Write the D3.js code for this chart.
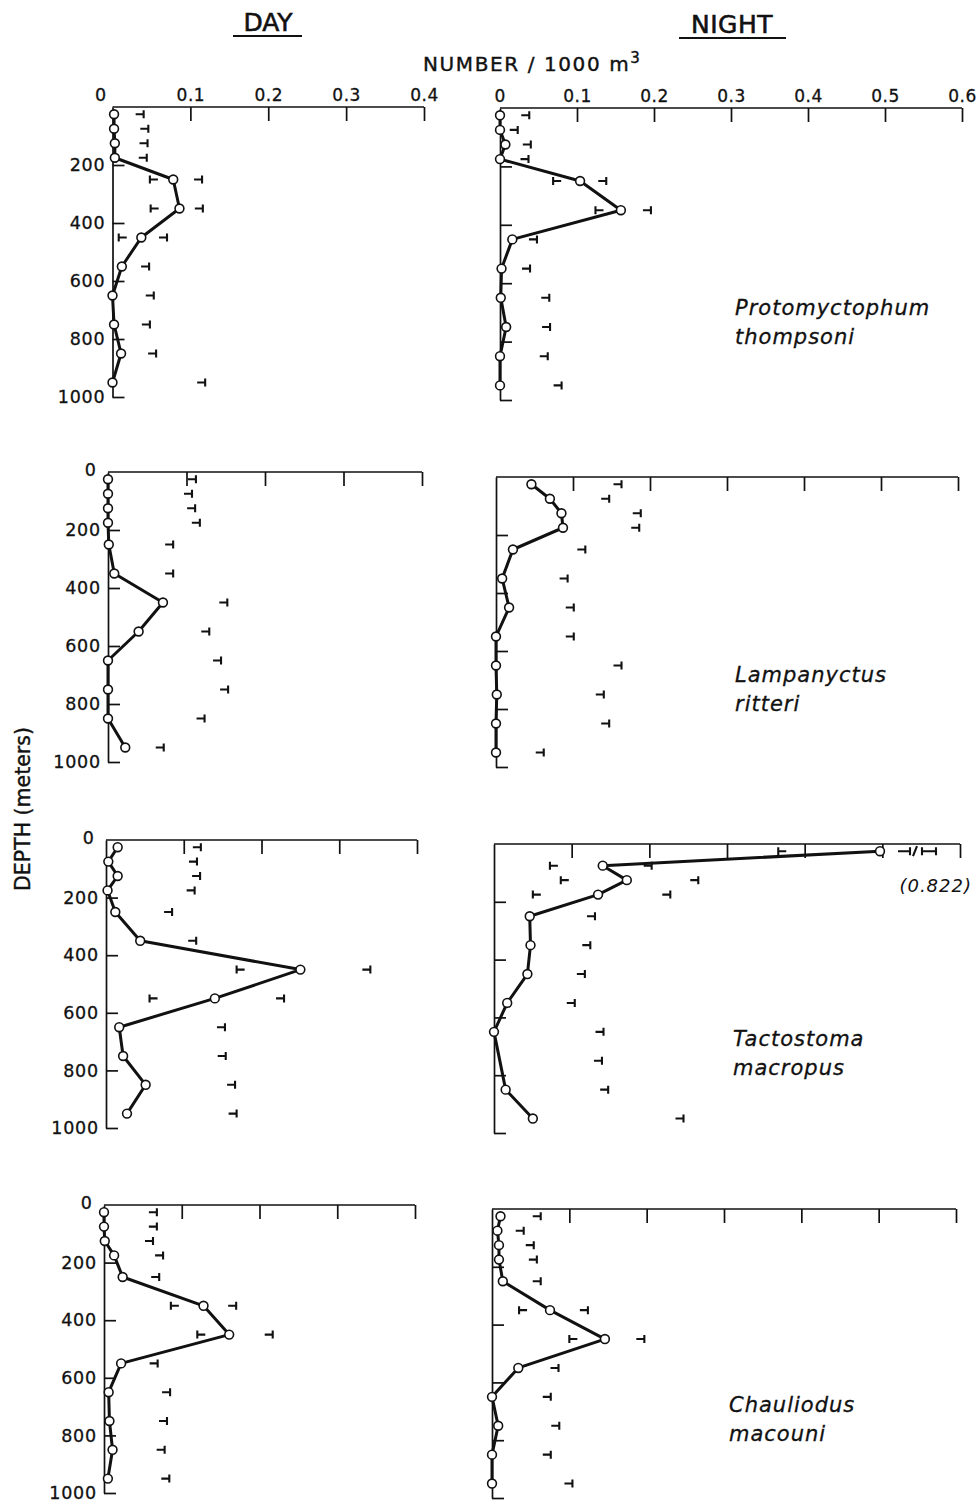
<!DOCTYPE html>
<html>
<head>
<meta charset="utf-8">
<script src="https://cdn.jsdelivr.net/npm/d3@7/dist/d3.min.js"></script>
<style>
  html, body { margin: 0; padding: 0; background: #fff; }
  svg { display: block; }
</style>
</head>
<body>
<svg id="chart" width="976" height="1503"></svg>
<script>
// ---------------- DATA ----------------
const depths = [25, 75, 125, 175, 250, 350, 450, 550, 650, 750, 850, 950];
const depthTicks = [200, 400, 600, 800, 1000];
const dayTicks = [0.1, 0.2, 0.3, 0.4];
const nightTicks = [0, 0.1, 0.2, 0.3, 0.4, 0.5, 0.6];
const dayMax = 0.4;
const nightMax = 0.6;
const _ = null;

// Protomyctophum thompsoni
const ptDayMean   = [0.002, 0.002, 0.003, 0.003, 0.078, 0.086, 0.037, 0.012, 0.000, 0.002, 0.011, 0.000];
const ptDayUpper  = [0.040, 0.046, 0.045, 0.044, 0.115, 0.116, 0.070, 0.047, 0.053, 0.048, 0.056, 0.119];
const ptDayLower  = [_, _, _, _, 0.048, 0.049, 0.008, _, _, _, _, _];
const ptNightMean  = [0.000, 0.000, 0.007, 0.000, 0.104, 0.157, 0.016, 0.002, 0.001, 0.008, 0.000, 0.000];
const ptNightUpper = [0.038, 0.023, 0.040, 0.037, 0.138, 0.196, 0.048, 0.039, 0.064, 0.065, 0.062, 0.080];
const ptNightLower = [_, _, _, _, 0.069, 0.124, _, _, _, _, _, _];

// Lampanyctus ritteri
const lrDayMean   = [0.000, 0.000, 0.000, 0.000, 0.001, 0.008, 0.070, 0.039, 0.000, 0.000, 0.000, 0.022];
const lrDayUpper  = [0.112, 0.107, 0.111, 0.117, 0.083, 0.083, 0.152, 0.129, 0.144, 0.153, 0.123, 0.071];
const lrDayLower  = [_, _, _, _, _, _, _, _, _, _, _, _];
const lrNightMean  = [0.046, 0.070, 0.085, 0.087, 0.022, 0.008, 0.017, 0.000, 0.000, 0.001, 0.000, 0.000];
const lrNightUpper = [0.163, 0.147, 0.188, 0.186, 0.116, 0.093, 0.101, 0.101, 0.163, 0.140, 0.147, 0.062];
const lrNightLower = [_, _, _, _, _, _, _, _, _, _, _, _];

// Tactostoma macropus
const tmDayMean   = [0.015, 0.003, 0.015, 0.002, 0.012, 0.044, 0.250, 0.140, 0.017, 0.022, 0.051, 0.027];
const tmDayUpper  = [0.122, 0.117, 0.121, 0.114, 0.085, 0.116, 0.340, 0.229, 0.153, 0.154, 0.166, 0.168];
const tmDayLower  = [_, _, _, _, _, _, 0.168, 0.056, _, _, _, _];
const tmNightMean  = [0.497, 0.140, 0.171, 0.134, 0.046, 0.047, 0.043, 0.017, 0.000, _, 0.015, 0.050];
const tmNightUpper = [0.822, 0.203, 0.263, 0.227, 0.130, 0.124, 0.117, 0.104, 0.141, 0.139, 0.147, 0.244];
const tmNightLower = [0.366, 0.072, 0.086, 0.050, _, _, _, _, _, _, _, _];

// Chauliodus macouni
const cmDayMean   = [0.000, 0.000, 0.001, 0.013, 0.024, 0.128, 0.161, 0.022, 0.006, 0.007, 0.011, 0.005];
const cmDayUpper  = [0.068, 0.068, 0.063, 0.076, 0.071, 0.170, 0.217, 0.069, 0.085, 0.081, 0.078, 0.084];
const cmDayLower  = [_, _, _, _, _, 0.086, 0.120, _, _, _, _, _];
const cmNightMean  = [0.011, 0.007, 0.009, 0.009, 0.014, 0.075, 0.146, 0.034, 0.000, 0.008, 0.000, 0.000];
const cmNightUpper = [0.063, 0.041, 0.054, 0.058, 0.063, 0.124, 0.197, 0.086, 0.076, 0.087, 0.076, 0.104];
const cmNightLower = [_, _, _, _, _, 0.035, 0.100, _, _, _, _, _];

const speciesNames = [
  ["Protomyctophum", "thompsoni"],
  ["Lampanyctus", "ritteri"],
  ["Tactostoma", "macropus"],
  ["Chauliodus", "macouni"]
];

// ---------------- LAYOUT ----------------
const dayBox = [
  {l: 112.5, r: 424, t: 107, b: 397},
  {l: 108,   r: 422, t: 472, b: 762},
  {l: 106,   r: 417, t: 840, b: 1128},
  {l: 104,   r: 415, t: 1205, b: 1493}
];
const nightBox = [
  {l: 500, r: 962, t: 108, b: 400},
  {l: 496, r: 958, t: 477, b: 767},
  {l: 494, r: 960, t: 844, b: 1133},
  {l: 492, r: 956, t: 1209, b: 1498}
];
const nameBox = [
  {x: 735, y: 315},
  {x: 735, y: 682},
  {x: 733, y: 1046},
  {x: 729, y: 1412}
];

const FONT = "'DejaVu Sans', 'Liberation Sans', sans-serif";
const INK = "#111";
const svg = d3.select("#chart");

const panels = [
  {day: [ptDayMean, ptDayUpper, ptDayLower], night: [ptNightMean, ptNightUpper, ptNightLower]},
  {day: [lrDayMean, lrDayUpper, lrDayLower], night: [lrNightMean, lrNightUpper, lrNightLower]},
  {day: [tmDayMean, tmDayUpper, tmDayLower], night: [tmNightMean, tmNightUpper, tmNightLower]},
  {day: [cmDayMean, cmDayUpper, cmDayLower], night: [cmNightMean, cmNightUpper, cmNightLower]}
];

const fmtX = d => d === 0 ? "0" : d3.format(".1f")(d);

function heavy(sel, w) {
  return sel.attr("stroke", INK).attr("stroke-width", w).attr("paint-order", "stroke");
}

function drawPanel(box, series, maxV, ticks, isDay, showXLabels) {
  const [mean, upper, lower] = series;
  const x = d3.scaleLinear().domain([0, maxV]).range([box.l, box.r]);
  const y = d3.scaleLinear().domain([0, 1000]).range([box.t, box.b]);
  const g = svg.append("g");

  // top axis
  const xa = d3.axisTop(x).tickValues(ticks.filter(t => t > 0))
    .tickSizeInner(-14).tickSizeOuter(0).tickPadding(6)
    .tickFormat(showXLabels ? fmtX : () => "");
  const gx = g.append("g").attr("transform", `translate(0,${box.t})`).call(xa);
  gx.select(".domain").attr("d", `M${box.l},0H${box.r}`);
  gx.selectAll("line, path").attr("stroke", INK).attr("stroke-width", 1.7);
  heavy(gx.selectAll("text").attr("font-family", FONT).attr("font-size", 17)
    .attr("fill", INK).attr("letter-spacing", 0.5), 0.3);

  // left axis
  const ya = d3.axisLeft(y).tickValues(depthTicks)
    .tickSizeInner(-12).tickSizeOuter(0).tickPadding(7)
    .tickFormat(isDay ? d3.format("d") : () => "");
  const gy = g.append("g").attr("transform", `translate(${box.l},0)`).call(ya);
  gy.selectAll("line, path").attr("stroke", INK).attr("stroke-width", 1.7);
  heavy(gy.selectAll("text").attr("font-family", FONT).attr("font-size", 17.5)
    .attr("fill", INK).attr("letter-spacing", 0.8), 0.3);

  // "0" labels
  if (isDay) {
    heavy(g.append("text")
      .attr("x", box.l - 12)
      .attr("y", showXLabels ? box.t - 6 : box.t + 4)
      .attr("text-anchor", showXLabels ? "middle" : "end")
      .attr("font-family", FONT).attr("font-size", 17.5).attr("fill", INK)
      .text("0"), 0.3);
  } else if (showXLabels) {
    heavy(g.append("text")
      .attr("x", x(0)).attr("y", box.t - 6)
      .attr("text-anchor", "middle")
      .attr("font-family", FONT).attr("font-size", 17).attr("fill", INK)
      .text("0"), 0.3);
  }

  // confidence limit markers
  const pts = depths.map((d, i) => ({depth: d, v: mean[i], up: upper[i], lo: lower[i]}));
  const mk = g.append("g").attr("stroke", INK).attr("stroke-width", 2.1).attr("fill", "none");
  pts.forEach(p => {
    const Y = y(p.depth);
    if (p.up != null && p.up <= maxV) {
      const X = x(p.up);
      mk.append("path").attr("d", `M${X - 8},${Y}H${X}M${X},${Y - 4}V${Y + 4}`);
    }
    if (p.lo != null) {
      const X = x(p.lo);
      mk.append("path").attr("d", `M${X},${Y - 4}V${Y + 4}M${X},${Y}H${X + 8}`);
    }
  });

  // mean profile
  const valid = pts.filter(p => p.v != null);
  const line = d3.line().x(p => x(p.v)).y(p => y(p.depth));
  g.append("path").datum(valid)
    .attr("d", line)
    .attr("fill", "none").attr("stroke", INK)
    .attr("stroke-width", 3).attr("stroke-linejoin", "round");

  // off-scale upper limit markers
  pts.forEach(p => {
    if (p.up != null && p.up > maxV) {
      const Y = y(p.depth);
      const a = x(maxV) - 62;
      mk.append("path").attr("d",
        `M${a},${Y}H${a + 12}M${a + 12},${Y - 4}V${Y + 4}` +
        `M${a + 15},${Y + 5}L${a + 19},${Y - 5}` +
        `M${a + 24},${Y - 4}V${Y + 4}M${a + 24},${Y}H${a + 38}M${a + 38},${Y - 4}V${Y + 4}`);
      g.append("text")
        .attr("x", x(maxV) + 12).attr("y", Y + 41)
        .attr("text-anchor", "end")
        .attr("font-family", FONT).attr("font-style", "italic")
        .attr("font-size", 18).attr("letter-spacing", 1).attr("fill", INK)
        .text(`(${d3.format(".3f")(p.up)})`);
    }
  });

  g.append("g").selectAll("circle").data(valid).join("circle")
    .attr("cx", p => x(p.v)).attr("cy", p => y(p.depth))
    .attr("r", 4.4).attr("fill", "#fff")
    .attr("stroke", INK).attr("stroke-width", 1.6);
}

panels.forEach((p, i) => {
  drawPanel(dayBox[i], p.day, dayMax, dayTicks, true, i === 0);
  drawPanel(nightBox[i], p.night, nightMax, nightTicks, false, i === 0);
  const nb = nameBox[i];
  const t = svg.append("text")
    .attr("font-family", FONT).attr("font-style", "italic")
    .attr("font-size", 21).attr("letter-spacing", 1).attr("fill", INK);
  heavy(t, 0.3);
  t.append("tspan").attr("x", nb.x).attr("y", nb.y).text(speciesNames[i][0]);
  t.append("tspan").attr("x", nb.x).attr("y", nb.y + 29).text(speciesNames[i][1]);
});

// ---------------- TITLES ----------------
heavy(svg.append("text").attr("x", 268).attr("y", 31)
  .attr("text-anchor", "middle").attr("font-family", FONT)
  .attr("font-size", 25).attr("fill", INK).text("DAY"), 0.6);
svg.append("line").attr("x1", 233).attr("x2", 302).attr("y1", 36).attr("y2", 36)
  .attr("stroke", INK).attr("stroke-width", 2.2);

heavy(svg.append("text").attr("x", 732).attr("y", 33)
  .attr("text-anchor", "middle").attr("font-family", FONT)
  .attr("font-size", 25).attr("letter-spacing", 0.5).attr("fill", INK).text("NIGHT"), 0.6);
svg.append("line").attr("x1", 679).attr("x2", 786).attr("y1", 38).attr("y2", 38)
  .attr("stroke", INK).attr("stroke-width", 2.2);

const unit = svg.append("text").attr("x", 423).attr("y", 71)
  .attr("font-family", FONT).attr("font-size", 20)
  .attr("letter-spacing", 1.6).attr("fill", INK);
heavy(unit, 0.4);
unit.append("tspan").text("NUMBER / 1000 m");
unit.append("tspan").attr("dy", -8).attr("font-size", 15).text("3");

heavy(svg.append("text")
  .attr("transform", "translate(30,809) rotate(-90)")
  .attr("text-anchor", "middle").attr("font-family", FONT)
  .attr("font-size", 20.5).attr("fill", INK)
  .text("DEPTH (meters)"), 0.4);
</script>
</body>
</html>
